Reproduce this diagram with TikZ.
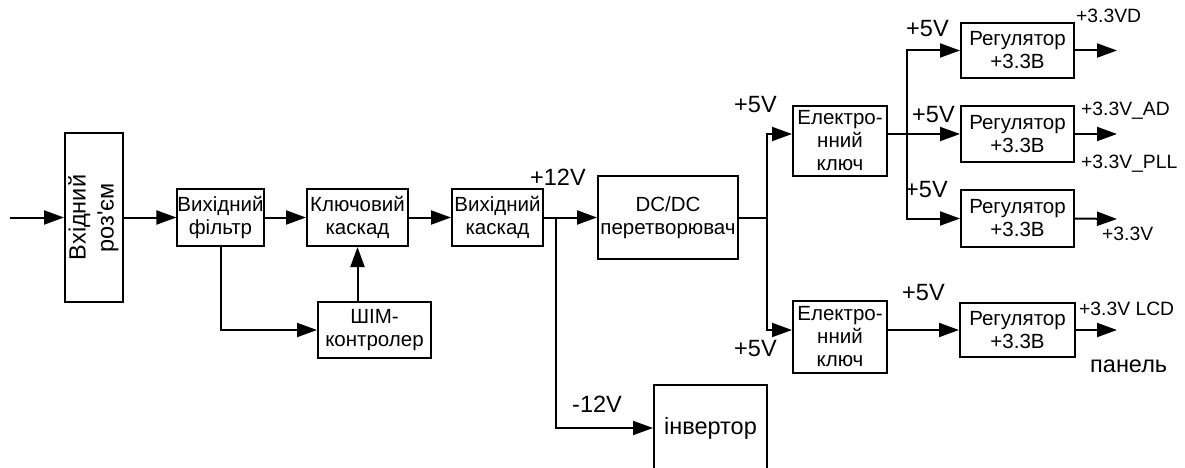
\documentclass[tikz,border=0pt]{standalone}
\usepackage{fontspec}
\setmainfont{Liberation Sans}[Ligatures=TeXOff]
\usetikzlibrary{arrows.meta}
\begin{document}
\begin{tikzpicture}[x=1pt,y=-1pt,
  box/.style={draw, line width=2pt, rectangle, align=center, inner sep=0pt, font=\fontsize{20.5}{23}\selectfont},
  lbl/.style={inner sep=0pt, anchor=base west, font=\fontsize{23.5}{27}\selectfont},
  olbl/.style={inner sep=0pt, anchor=base west, font=\fontsize{19.3}{23}\selectfont},
  wire/.style={line width=2pt},
  arr/.style={wire, -{Triangle[length=20pt,width=14pt]}}]
\useasboundingbox (0,0) rectangle (1185,468);
\clip (0,0) rectangle (1185,468);

% boxes
\node[box, minimum width=58pt, minimum height=169pt] (conn) at (94,217.5)
  {\rotatebox{90}{\fontsize{23.5}{28}\selectfont\begin{tabular}{@{}c@{}}Вхідний\\роз'єм\end{tabular}}};
\node[box, minimum width=85pt, minimum height=57pt] (filt) at (220.5,217.5) {Вихідний\\фільтр};
\node[box, minimum width=101pt, minimum height=57pt] (key) at (357.5,217.5) {Ключовий\\каскад};
\node[box, minimum width=113pt, minimum height=56pt] (pwm) at (374.5,330) {ШІМ-\\контролер};
\node[box, minimum width=91pt, minimum height=57pt] (outc) at (497.5,217.5) {Вихідний\\каскад};
\node[box, minimum width=140pt, minimum height=83pt] (dcdc) at (668,217.5) {DC/DC\\перетворювач};
\node[box, font=\fontsize{23.5}{27}\selectfont, minimum width=113pt, minimum height=86pt] (inv) at (710.5,428) {інвертор};
\node[box, minimum width=94pt, minimum height=70pt] (sw1) at (840,141) {Електро-\\нний\\ключ};
\node[box, minimum width=94pt, minimum height=72pt] (sw2) at (840,337) {Електро-\\нний\\ключ};
\node[box, minimum width=113pt, minimum height=55pt] (reg1) at (1017.5,50.5) {Регулятор\\+3.3В};
\node[box, minimum width=113pt, minimum height=56pt] (reg2) at (1017.5,134) {Регулятор\\+3.3В};
\node[box, minimum width=113pt, minimum height=57pt] (reg3) at (1017.5,218.5) {Регулятор\\+3.3В};
\node[box, minimum width=115pt, minimum height=54pt] (reg4) at (1017.5,330) {Регулятор\\+3.3В};

% junctions and free ends
\coordinate (in) at (10,217.5);
\coordinate (j12) at (556,217.5);
\coordinate (j5) at (767,217.5);
\coordinate (j3) at (907,134);
\coordinate (o1) at (1117,50.5);
\coordinate (o2) at (1117,134);
\coordinate (o3) at (1117,219);
\coordinate (o4) at (1117,330);

% connectors
\draw[arr] (in) -- (conn.west);
\draw[arr] (conn.east) -- (filt.west);
\draw[arr] (filt.east) -- (key.west);
\draw[arr] (filt.south) |- (pwm.west);
\draw[arr] (pwm.north -| key.south) -- (key.south);
\draw[arr] (key.east) -- (outc.west);
\draw[arr] (outc.east) -- (dcdc.west);
\draw[arr] (j12) |- (inv.west);
\draw[wire] (dcdc.east) -- (j5);
\draw[arr] (j5) |- ([yshift=7pt]sw1.west);
\draw[arr] (j5) |- ([yshift=7pt]sw2.west);
\draw[arr] ([yshift=7pt]sw1.east) -- (reg2.west);
\draw[arr] (j3) |- (reg1.west);
\draw[arr] (j3) |- (reg3.west);
\draw[arr] ([yshift=7pt]sw2.east) -- (reg4.west);
\draw[arr] (reg1.east) -- (o1);
\draw[arr] (reg2.east) -- (o2);
\draw[arr] (reg3.east) -- (o3);
\draw[arr] (reg4.east) -- (o4);

% labels
\node[lbl] (l12) at (530,185) {+12V};
\node[lbl] (lm12) at (572,412) {-12V};
\node[lbl] (l5a) at (734,113) {+5V};
\node[lbl] (l5b) at (734,356) {+5V};
\node[lbl] (l5c) at (906,37) {+5V};
\node[lbl] (l5d) at (912,122) {+5V};
\node[lbl] (l5e) at (905,197) {+5V};
\node[lbl] (l5f) at (902,300) {+5V};
\node[olbl] (v1) at (1076,23) {+3.3VD};
\node[olbl] (v2) at (1081,116) {+3.3V\_AD};
\node[olbl] (v3) at (1081,168) {+3.3V\_PLL};
\node[olbl] (v4) at (1102,240) {+3.3V};
\node[olbl] (v5) at (1079,315) {+3.3V LCD};
\node[lbl] (v6) at (1090,372) {панель};
\end{tikzpicture}
\end{document}
